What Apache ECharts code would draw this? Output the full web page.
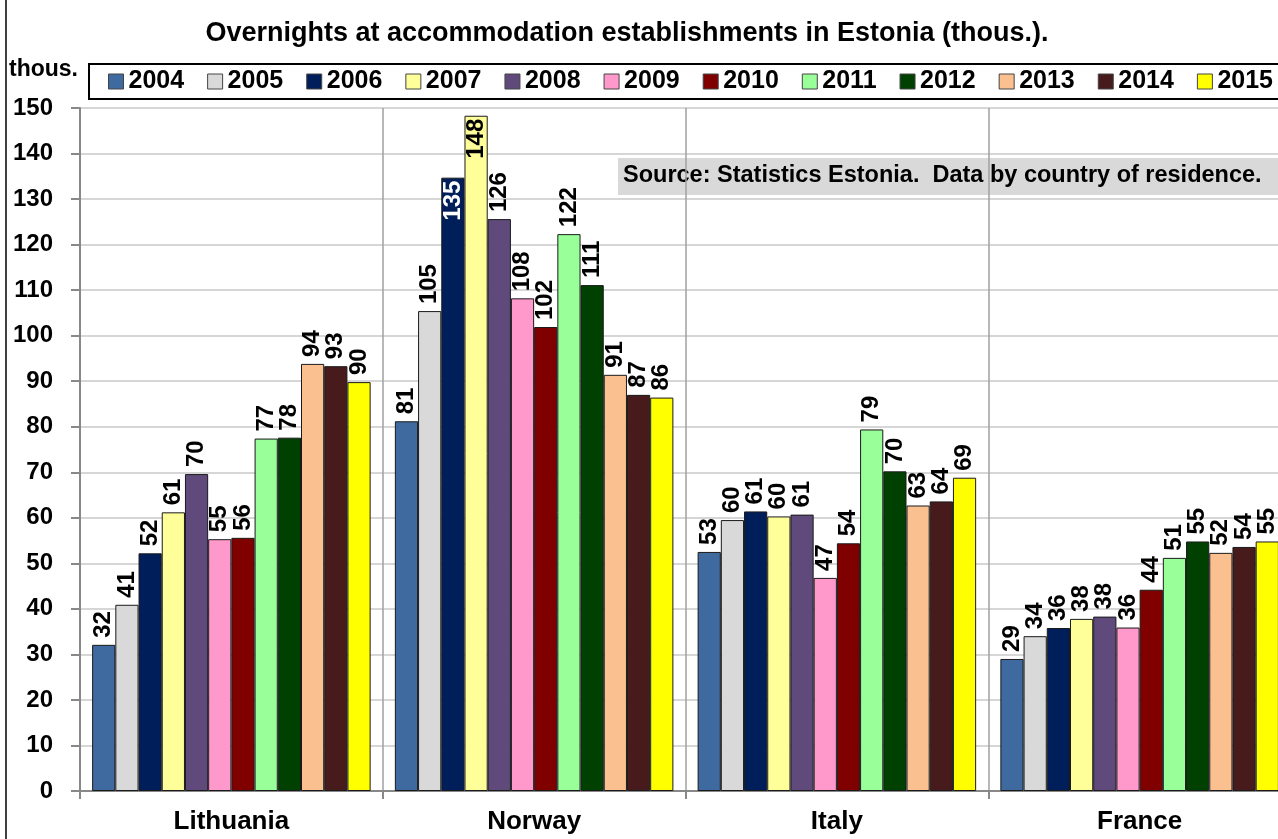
<!DOCTYPE html>
<html>
<head>
<meta charset="utf-8">
<script src="https://cdn.jsdelivr.net/npm/echarts@6/dist/echarts.min.js"></script>
<style>
  html, body { margin: 0; padding: 0; background: #fff; }
  #chart { width: 1278px; height: 839px; }
</style>
</head>
<body>
<div id="chart"></div>
<script>
const countries = ['Lithuania', 'Norway', 'Italy', 'France'];
const years = ['2004', '2005', '2006', '2007', '2008', '2009', '2010', '2011', '2012', '2013', '2014', '2015'];

// one array per year: Lithuania, Norway, Italy, France
const v2004 = [32.1, 81.2, 52.5, 29.0];
const v2005 = [40.9, 105.4, 59.5, 34.0];
const v2006 = [52.2, 134.7, 61.4, 35.8];
const v2007 = [61.2, 148.3, 60.3, 37.8];
const v2008 = [69.6, 125.6, 60.7, 38.3];
const v2009 = [55.3, 108.2, 46.8, 35.9];
const v2010 = [55.6, 101.9, 54.4, 44.2];
const v2011 = [77.4, 122.3, 79.4, 51.2];
const v2012 = [77.6, 111.1, 70.2, 54.8];
const v2013 = [93.8, 91.4, 62.7, 52.3];
const v2014 = [93.3, 87.0, 63.6, 53.6];
const v2015 = [89.8, 86.4, 68.8, 54.8];
const values = [v2004, v2005, v2006, v2007, v2008, v2009, v2010, v2011, v2012, v2013, v2014, v2015];

const colors = ['#3F6A9F', '#D9D9D9', '#001E5A', '#FFFF99', '#604A7B', '#FF99CC',
                '#800000', '#99FF99', '#004000', '#FAC090', '#471B1B', '#FFFF00'];

const FONT = 'Liberation Sans';

const labelTop = {
  show: true, position: 'top', rotate: 90, align: 'left', verticalAlign: 'middle',
  distance: 7, fontFamily: FONT, fontWeight: 'bold', fontSize: 24, color: '#000',
  formatter: p => Math.round(p.value)
};

const series = years.map((y, i) => ({
  name: y,
  type: 'bar',
  barCategoryGap: '8%',
  barGap: '0%',
  itemStyle: { color: colors[i], borderColor: '#1a1a1a', borderWidth: 1 },
  label: labelTop,
  data: values[i].map((v, j) => {
    // Norway 2006 and 2007 carry their labels inside the bar
    if (j === 1 && (y === '2006' || y === '2007')) {
      return { value: v, label: { position: 'insideTop', align: 'right', distance: 3,
        color: y === '2006' ? '#fff' : '#000' } };
    }
    return v;
  })
}));

const chart = echarts.init(document.getElementById('chart'));
chart.setOption({
  animation: false,
  backgroundColor: '#fff',
  color: colors,
  title: {
    text: 'Overnights at accommodation establishments in Estonia (thous.).',
    left: 622, top: 15, textAlign: 'center',
    textStyle: { fontFamily: FONT, fontWeight: 'bold', fontSize: 27, color: '#000' }
  },
  legend: {
    left: 89, top: 64,
    width: 1240,
    padding: [5, 10, 5, 19],
    borderColor: '#000', borderWidth: 2,
    itemWidth: 15, itemHeight: 15, itemGap: 23,
    icon: 'rect',
    itemStyle: { borderColor: '#444', borderWidth: 1 },
    textStyle: { fontFamily: FONT, fontWeight: 'bold', fontSize: 25, color: '#000' },
    data: years
  },
  grid: { left: 80, top: 108, width: 1211, bottom: 48, outerBoundsMode: 'none' },
  xAxis: {
    type: 'category',
    data: countries,
    axisLine: { lineStyle: { color: '#888', width: 2 } },
    axisTick: { show: true, length: 8, lineStyle: { color: '#888', width: 2 } },
    splitLine: { show: true, lineStyle: { color: '#A0A0A0', width: 1.5 } },
    axisLabel: { fontFamily: FONT, fontWeight: 'bold', fontSize: 26, color: '#000', margin: 18 }
  },
  yAxis: {
    type: 'value',
    min: 0, max: 150, interval: 10,
    axisLine: { show: true, lineStyle: { color: '#888', width: 2 } },
    axisTick: { show: true, length: 9, lineStyle: { color: '#888', width: 2 } },
    splitLine: { lineStyle: { color: '#C8C8C8', width: 1.5 } },
    axisLabel: { fontFamily: FONT, fontWeight: 'bold', fontSize: 24, color: '#000', margin: 27 }
  },
  graphic: [
    { type: 'line', shape: { x1: 6, y1: 0, x2: 6, y2: 839 }, style: { stroke: '#000', lineWidth: 1.5 } },
    { type: 'text', left: 9, top: 58,
      style: { text: 'thous.', fontFamily: FONT, fontWeight: 'bold', fontSize: 23, fill: '#000' } },
    { type: 'rect', shape: { x: 618, y: 158, width: 670, height: 37 }, style: { fill: '#D9D9D9' } },
    { type: 'text', left: 623, top: 164,
      style: { text: 'Source: Statistics Estonia.  Data by country of residence.',
        fontFamily: FONT, fontWeight: 'bold', fontSize: 23.5, fill: '#000' } }
  ],
  series: series
});
</script>
</body>
</html>
